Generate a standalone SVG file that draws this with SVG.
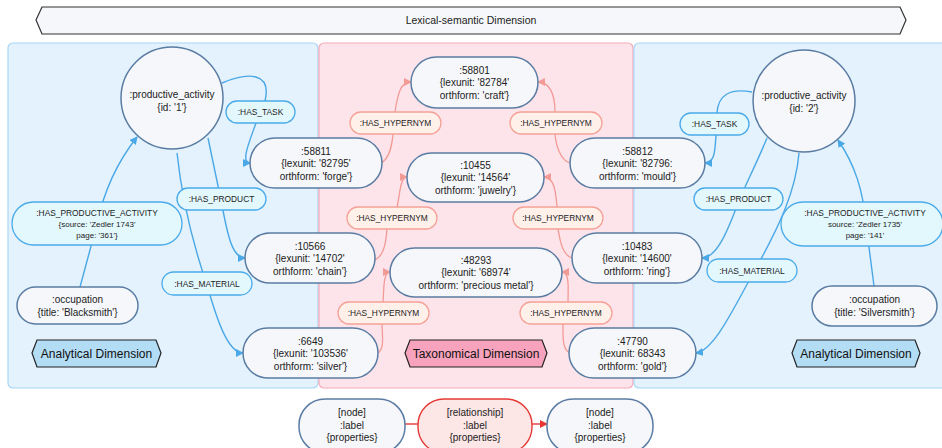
<svg xmlns="http://www.w3.org/2000/svg" width="942" height="448" viewBox="0 0 942 448">
<defs>
<style>
.panel-b{fill:#e3f2fd;stroke:#a9d6f5;stroke-width:1.2}
.panel-p{fill:#fde4ea;stroke:#f5aab8;stroke-width:1.2}
.nd{fill:#f5f7fa;stroke:#5a7ca3;stroke-width:1.5}
.t{font-family:"Liberation Sans",Arial,sans-serif;font-size:10px;fill:#222;text-anchor:middle}
.lt{font-family:"Liberation Sans",Arial,sans-serif;font-size:8.4px;fill:#222;text-anchor:middle}
.st{font-family:"Liberation Sans",Arial,sans-serif;font-size:8px;fill:#222;text-anchor:middle}
.ht{font-family:"Liberation Sans",Arial,sans-serif;font-size:12px;fill:#111;text-anchor:middle}
.lb{fill:#e2f8fd;stroke:#4aaaea;stroke-width:1.3}
.lp{fill:#fff0ea;stroke:#f4a197;stroke-width:1.3}
.eb{fill:none;stroke:#4aa8e6;stroke-width:1.4}
.ep{fill:none;stroke:#f29a95;stroke-width:1.3}
.er{fill:none;stroke:#e53935;stroke-width:1.4}
.hexb{fill:#b3dcf5;stroke:#222;stroke-width:1.2}
.hexp{fill:#f7a3bd;stroke:#222;stroke-width:1.2}
</style>
<marker id="ab" markerWidth="8" markerHeight="8" refX="7" refY="4" orient="auto" markerUnits="userSpaceOnUse"><path d="M0,0 L8,4 L0,8 Z" fill="#4aa8e6"/></marker>
<marker id="ap" markerWidth="8" markerHeight="8" refX="7" refY="4" orient="auto" markerUnits="userSpaceOnUse"><path d="M0,0 L8,4 L0,8 Z" fill="#f29a95"/></marker>
<marker id="ar" markerWidth="8" markerHeight="8" refX="7" refY="4" orient="auto" markerUnits="userSpaceOnUse"><path d="M0,0 L8,4 L0,8 Z" fill="#e53935"/></marker>
</defs>
<rect width="942" height="448" fill="#ffffff"/>

<g id="banner">
<polygon points="36,20 42,7 900,7 906,20 900,34 42,34" fill="#f5f7fa" stroke="#333" stroke-width="1.2"/>
<text x="471" y="24" class="t" style="font-size:10.5px">Lexical-semantic Dimension</text>
</g>

<g id="panels">
<rect class="panel-b" x="8" y="43" width="310" height="345" rx="5"/>
<rect class="panel-p" x="319" y="43" width="314" height="345" rx="5"/>
<rect class="panel-b" x="634" y="43" width="320" height="345" rx="5"/>
</g>

<g id="connectors">
<path class="eb" d="M222,83 C248,72 272,72 265,101 L256,123 C250,140 240,163 250,163" marker-end="url(#ab)"/>
<path class="eb" d="M208,138 L222,205 C228,238 233,258 245,258" marker-end="url(#ab)"/>
<path class="eb" d="M177,153 C182,200 195,250 207,285 C217,320 228,353 243,353" marker-end="url(#ab)"/>
<path class="eb" d="M80,287 L97,224 C103,195 115,165 137,137" marker-end="url(#ab)"/>
<path class="ep" d="M381,163 C390,158 392,145 393,134 L395,112 C398,92 401,82 411,82" marker-end="url(#ap)"/>
<path class="ep" d="M570,163 C560,160 556,145 555,134 L555,112 C555,95 550,82 538,82" marker-end="url(#ap)"/>
<path class="ep" d="M375,260 C385,255 386,240 387,229 L397,207 C400,195 400,177 407,177" marker-end="url(#ap)"/>
<path class="ep" d="M572,258 C562,255 560,240 558,229 L557,207 C556,195 555,177 544,177" marker-end="url(#ap)"/>
<path class="ep" d="M378,353 C385,348 382,335 382,324 L383,302 C384,290 383,272 390,272" marker-end="url(#ap)"/>
<path class="ep" d="M570,353 C562,350 563,335 563,324 L568,302 C568,290 570,272 562,272" marker-end="url(#ap)"/>
<path class="eb" d="M752,92 C730,88 718,95 717,113 L716,135 C715,150 715,163 705,163" marker-end="url(#ab)"/>
<path class="eb" d="M767,138 C758,160 748,180 740,198 C730,225 718,258 702,258" marker-end="url(#ab)"/>
<path class="eb" d="M799,153 C796,190 780,225 755,270 C735,305 715,350 696,353" marker-end="url(#ab)"/>
<path class="eb" d="M874,286 L866,224 C863,190 855,165 838,140" marker-end="url(#ab)"/>
<path class="er" d="M405,424 L418,424"/>
<path class="er" d="M532,424 L547,424" marker-end="url(#ar)"/>
</g>

<g id="edge-labels">
<rect class="lb" x="226" y="101" width="69" height="22" rx="11"/><text class="lt" x="260.5" y="115">:HAS_TASK</text>
<rect class="lb" x="177" y="188" width="89" height="22" rx="11"/><text class="lt" x="221.5" y="202">:HAS_PRODUCT</text>
<rect class="lb" x="162" y="272" width="90" height="23" rx="11.5"/><text class="lt" x="207" y="286.5">:HAS_MATERIAL</text>
<rect class="lb" x="12" y="202" width="170" height="43" rx="21.5"/>
<text class="lt" x="97" y="216">:HAS_PRODUCTIVE_ACTIVITY</text>
<text class="st" x="97" y="227">{source: 'Zedler 1743'</text>
<text class="st" x="97" y="238">page: '361'}</text>
<rect class="lp" x="350" y="112" width="91" height="22" rx="11"/><text class="lt" x="395.5" y="126">:HAS_HYPERNYM</text>
<rect class="lp" x="510" y="112" width="92" height="22" rx="11"/><text class="lt" x="556" y="126">:HAS_HYPERNYM</text>
<rect class="lp" x="347" y="207" width="90" height="22" rx="11"/><text class="lt" x="392" y="221">:HAS_HYPERNYM</text>
<rect class="lp" x="513" y="207" width="90" height="22" rx="11"/><text class="lt" x="558" y="221">:HAS_HYPERNYM</text>
<rect class="lp" x="338" y="302" width="91" height="22" rx="11"/><text class="lt" x="383.5" y="316">:HAS_HYPERNYM</text>
<rect class="lp" x="520" y="302" width="92" height="22" rx="11"/><text class="lt" x="566" y="316">:HAS_HYPERNYM</text>
<rect class="lb" x="680" y="113" width="69" height="22" rx="11"/><text class="lt" x="714.5" y="127">:HAS_TASK</text>
<rect class="lb" x="694" y="188" width="89" height="22" rx="11"/><text class="lt" x="738.5" y="202">:HAS_PRODUCT</text>
<rect class="lb" x="707" y="259" width="90" height="23" rx="11.5"/><text class="lt" x="752" y="273.5">:HAS_MATERIAL</text>
<rect class="lb" x="781" y="202" width="162" height="44" rx="22"/>
<text class="lt" x="865" y="216">:HAS_PRODUCTIVE_ACTIVITY</text>
<text class="st" x="865" y="227">source: 'Zedler 1735'</text>
<text class="st" x="865" y="238">page: '141'</text>
</g>

<g id="pa1">
<circle class="nd" cx="172" cy="98" r="51"/>
<text class="t" x="172" y="97.5">:productive_activity</text>
<text class="t" x="172" y="110.5">{id: '1'}</text>
</g>
<g id="occ-blacksmith">
<rect class="nd" x="17" y="287" width="121" height="37" rx="18.5"/>
<text class="t" x="77.5" y="303">:occupation</text>
<text class="t" x="77.5" y="316">{title: 'Blacksmith'}</text>
</g>
<g id="n58811">
<rect class="nd" x="250" y="138" width="132" height="50" rx="25"/>
<text class="t" x="316" y="154.5">:58811</text>
<text class="t" x="316" y="167">{lexunit: '82795'</text>
<text class="t" x="316" y="180">orthform: 'forge'}</text>
</g>
<g id="n10566">
<rect class="nd" x="245" y="233" width="130" height="50" rx="25"/>
<text class="t" x="310" y="249.5">:10566</text>
<text class="t" x="310" y="262">{lexunit: '14702'</text>
<text class="t" x="310" y="275">orthform: 'chain'}</text>
</g>
<g id="n6649">
<rect class="nd" x="243" y="328" width="135" height="50" rx="25"/>
<text class="t" x="310.5" y="344.5">:6649</text>
<text class="t" x="310.5" y="357">{lexunit: '103536'</text>
<text class="t" x="310.5" y="370">orthform: 'silver'}</text>
</g>
<g id="analytical-left">
<polygon class="hexb" points="32,353 37,340 156,340 161,353 156,367 37,367"/>
<text class="ht" x="96.5" y="357.5">Analytical Dimension</text>
</g>

<g id="n58801">
<rect class="nd" x="411" y="57" width="127" height="51" rx="25.5"/>
<text class="t" x="474.5" y="73.5">:58801</text>
<text class="t" x="474.5" y="86">{lexunit: '82784'</text>
<text class="t" x="474.5" y="99">orthform: 'craft'}</text>
</g>
<g id="n10455">
<rect class="nd" x="407" y="153" width="137" height="49" rx="24.5"/>
<text class="t" x="475.5" y="168.5">:10455</text>
<text class="t" x="475.5" y="181">{lexunit: '14564'</text>
<text class="t" x="475.5" y="194">orthform: 'juwelry'}</text>
</g>
<g id="n48293">
<rect class="nd" x="390" y="248" width="172" height="49" rx="24.5"/>
<text class="t" x="476" y="263.5">:48293</text>
<text class="t" x="476" y="276">{lexunit: '68974'</text>
<text class="t" x="476" y="289">orthform: 'precious metal'}</text>
</g>
<g id="taxonomical">
<polygon class="hexp" points="405,353 410,340 542,340 547,353 542,367 410,367"/>
<text class="ht" x="476" y="357.5">Taxonomical Dimension</text>
</g>

<g id="pa2">
<circle class="nd" cx="804" cy="101" r="51"/>
<text class="t" x="804" y="99">:productive_activity</text>
<text class="t" x="804" y="112">{id: '2'}</text>
</g>
<g id="n58812">
<rect class="nd" x="570" y="138" width="135" height="50" rx="25"/>
<text class="t" x="637.5" y="154.5">:58812</text>
<text class="t" x="637.5" y="167">{lexunit: '82796:</text>
<text class="t" x="637.5" y="180">orthform: 'mould'}</text>
</g>
<g id="n10483">
<rect class="nd" x="572" y="233" width="130" height="50" rx="25"/>
<text class="t" x="637" y="249.5">:10483</text>
<text class="t" x="637" y="262">{lexunit: '14600'</text>
<text class="t" x="637" y="275">orthform: 'ring'}</text>
</g>
<g id="n47790">
<rect class="nd" x="569" y="328" width="127" height="50" rx="25"/>
<text class="t" x="632.5" y="344.5">:47790</text>
<text class="t" x="632.5" y="357">{lexunit: 68343</text>
<text class="t" x="632.5" y="370">orthform: 'gold'}</text>
</g>
<g id="occ-silversmith">
<rect class="nd" x="812" y="286" width="125" height="40" rx="20"/>
<text class="t" x="874.5" y="303">:occupation</text>
<text class="t" x="874.5" y="316">{title: 'Silversmith'}</text>
</g>
<g id="analytical-right">
<polygon class="hexb" points="792,353 797,340 915,340 920,353 915,367 797,367"/>
<text class="ht" x="856" y="357.5">Analytical Dimension</text>
</g>

<g id="legend-node1">
<rect class="nd" x="299" y="399" width="106" height="54" rx="26"/>
<text class="t" x="352" y="416">[node]</text>
<text class="t" x="352" y="428.5">:label</text>
<text class="t" x="352" y="441">{properties}</text>
</g>
<g id="legend-rel">
<rect x="418" y="399" width="114" height="54" rx="26" fill="#fde6e6" stroke="#e53935" stroke-width="1.4"/>
<text class="t" x="475" y="416">[relationship]</text>
<text class="t" x="475" y="428.5">:label</text>
<text class="t" x="475" y="441">{properties}</text>
</g>
<g id="legend-node2">
<rect class="nd" x="547" y="399" width="106" height="54" rx="26"/>
<text class="t" x="600" y="416">[node]</text>
<text class="t" x="600" y="428.5">:label</text>
<text class="t" x="600" y="441">{properties}</text>
</g>
</svg>
